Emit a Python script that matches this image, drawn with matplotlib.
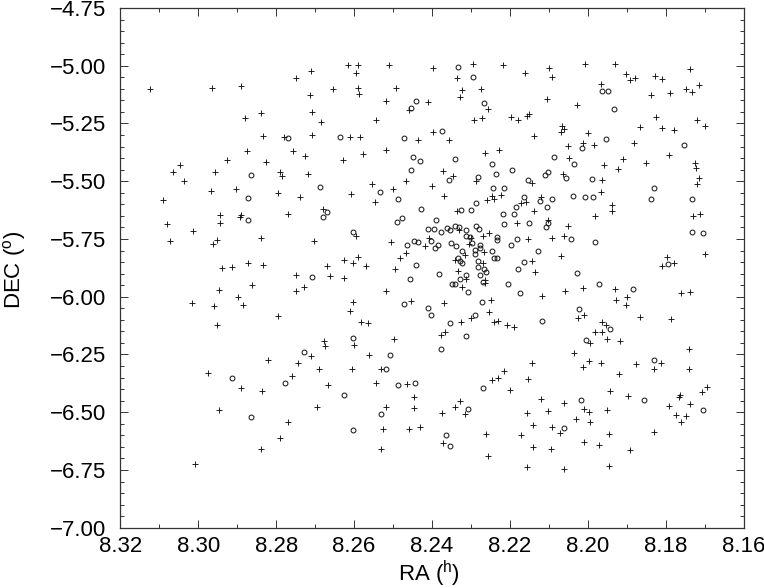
import matplotlib
matplotlib.use("Agg")
import matplotlib.pyplot as plt
from matplotlib.ticker import MultipleLocator

plt.rcParams['font.family'] = ['Liberation Sans', 'DejaVu Sans']
plt.rcParams['mathtext.fontset'] = 'custom'
plt.rcParams['mathtext.rm'] = 'Liberation Sans'
plt.rcParams['mathtext.it'] = 'Liberation Sans'
plt.rcParams['mathtext.bf'] = 'Liberation Sans'

plus_ra = [
8.3124,8.2965,8.2891,8.2748,8.2711,8.2713,8.2840,8.2881,8.2709,8.2685,8.2834,8.2779,8.2709,8.2876,8.2758,8.2725,8.2927,8.2826,8.3047,8.3065,8.2956,8.2791,8.2786,8.2717,8.3037,8.2904,8.2968,8.2795,8.2740,8.3091,8.2944,8.2889,8.2892,8.2769,8.2681,8.3080,8.2945,8.3013,8.3073,8.2953,8.2962,8.2840,8.2704,8.2939,8.2913,8.2873,8.2834,8.2670,
8.2616,8.2590,8.2595,8.2510,8.2398,8.2295,8.2219,8.2161,8.2337,8.2655,8.2590,8.2588,8.2492,8.2322,8.2275,8.2328,8.2519,8.2411,8.2459,8.2255,8.2544,8.2292,8.2272,8.2198,8.2180,8.2155,8.2150,8.2398,8.2610,8.2585,8.2437,8.2357,8.2139,8.2578,8.2629,8.2519,8.2264,8.2228,8.2372,8.2345,8.2466,8.2288,8.2144,8.2555,8.2501,8.2401,8.2609,8.2368,8.2245,8.2241,8.2222,8.2546,8.2259,8.2172,8.2160,8.2336,8.2138,8.2182,8.2330,8.2596,8.2254,8.2269,8.2407,8.2506,8.2300,8.2154,8.2419,8.2304,8.2468,8.2266,8.2315,8.2481,8.2590,8.2625,8.2604,8.2569,8.2341,8.2268,8.2143,8.2494,
8.2100,8.2007,8.1931,8.2092,8.1901,8.1891,8.1879,8.1828,8.1809,8.1737,8.1716,8.1747,8.1733,8.1965,8.1788,8.1838,8.2105,8.2029,8.1824,8.1719,8.1699,8.1867,8.1809,8.1780,8.2067,8.2061,8.2068,8.1999,8.2013,8.2050,8.1984,8.1882,8.1792,8.2048,8.1911,8.1959,8.1852,8.1724,8.1723,8.1922,8.2063,8.1716,8.1964,8.1721,8.1966,8.2121,8.1938,8.1937,8.1981,8.2101,8.1730,8.1712,8.2052,8.2093,8.2062,8.1699,8.2070,8.1797,8.1779,8.1809,
8.2749,8.2663,8.2863,8.2946,8.2728,8.2749,8.2897,8.3015,8.2960,8.2885,8.2795,8.2952,8.2678,8.2675,8.2711,8.2820,8.2743,8.2691,8.2976,8.2760,8.2891,8.2837,8.2666,8.2696,8.2947,8.2769,8.2791,8.2840,8.3009,
8.2627,8.2332,8.2135,8.2312,8.2264,8.2264,8.2322,8.2518,8.2602,8.2610,8.2453,8.2369,8.2248,8.2253,8.2326,8.2301,8.2240,8.2230,8.2208,8.2189,8.2581,8.2564,8.2366,8.2378,8.2498,8.2601,8.2562,8.2606,8.2532,8.2144,8.2216,8.2230,8.2247,8.2153,8.2201,8.2543,8.2465,8.2445,8.2327,8.2341,8.2518,8.2447,8.2375,8.2315,8.2155,8.2142,8.2458,8.2432,8.2526,8.2262,8.2172,8.2372,8.2141,8.2530,8.2255,8.2157,
8.2117,8.2059,8.2013,8.1931,8.1899,8.1927,8.1903,8.1760,8.1739,8.2010,8.2024,8.1865,8.1787,8.1964,8.1954,8.1981,8.1964,8.1952,8.1917,8.1995,8.1741,8.2036,8.1996,8.1965,8.1876,8.2013,8.1813,8.1829,8.1740,8.1919,8.1942,8.1896,8.1694,8.1708,8.1763,8.1765,8.2120,8.2062,8.1738,8.1792,8.2011,8.1997,8.1951,8.2103,8.1773,8.1747,8.2030,8.1995,8.1760,8.2091,8.2072,8.1947,8.1830,8.2011,8.1971,8.1893,8.2095,8.1945,8.2062,
]
plus_dec = [
-5.100,-5.098,-5.089,-5.054,-5.021,-5.128,-5.203,-5.226,-5.200,-5.242,-5.305,-5.308,-5.302,-5.369,-5.370,-5.389,-5.408,-5.418,-5.428,-5.461,-5.458,-5.458,-5.477,-5.470,-5.497,-5.534,-5.542,-5.552,-5.569,-5.581,-5.645,-5.647,-5.656,-5.641,-5.620,-5.684,-5.682,-5.716,-5.757,-5.755,-5.772,-5.746,-5.757,-5.875,-5.872,-5.853,-5.862,-5.869,
-4.997,-4.997,-5.030,-4.998,-5.010,-4.994,-4.997,-5.033,-5.054,-5.100,-5.095,-5.121,-5.096,-5.106,-5.102,-5.134,-5.152,-5.158,-5.193,-5.187,-5.236,-5.236,-5.226,-5.223,-5.236,-5.219,-5.209,-5.286,-5.309,-5.309,-5.320,-5.322,-5.305,-5.382,-5.408,-5.366,-5.376,-5.366,-5.455,-5.478,-5.497,-5.500,-5.507,-5.510,-5.534,-5.520,-5.556,-5.566,-5.566,-5.575,-5.558,-5.591,-5.583,-5.596,-5.588,-5.630,-5.630,-5.682,-5.713,-5.736,-5.725,-5.739,-5.744,-5.764,-5.746,-5.749,-5.781,-5.771,-5.811,-5.807,-5.821,-5.832,-5.827,-5.843,-5.853,-5.869,-5.840,-5.855,-5.846,-5.878,
-5.011,-4.991,-4.991,-5.050,-5.037,-5.060,-5.053,-5.046,-5.057,-5.012,-5.083,-5.102,-5.115,-5.080,-5.116,-5.125,-5.142,-5.172,-5.223,-5.237,-5.260,-5.265,-5.271,-5.279,-5.262,-5.275,-5.288,-5.291,-5.335,-5.346,-5.341,-5.335,-5.386,-5.399,-5.403,-5.428,-5.422,-5.422,-5.442,-5.448,-5.468,-5.485,-5.493,-5.513,-5.547,-5.569,-5.602,-5.630,-5.651,-5.667,-5.650,-5.641,-5.693,-5.744,-5.736,-5.813,-5.824,-5.826,-5.852,-5.869,
-5.907,-5.911,-5.950,-5.972,-5.959,-5.976,-6.002,-6.028,-6.039,-6.035,-6.084,-6.124,-6.192,-6.214,-6.257,-6.276,-6.287,-6.313,-6.331,-6.342,-6.396,-6.410,-6.383,-6.479,-6.489,-6.544,-6.613,-6.661,-6.724,
-5.920,-5.889,-5.895,-5.923,-5.927,-5.941,-5.959,-5.977,-6.022,-6.061,-6.019,-6.028,-6.015,-6.067,-6.109,-6.094,-6.111,-6.107,-6.122,-6.133,-6.109,-6.114,-6.152,-6.165,-6.182,-6.211,-6.254,-6.313,-6.313,-6.287,-6.322,-6.351,-6.360,-6.357,-6.404,-6.374,-6.380,-6.436,-6.452,-6.478,-6.479,-6.482,-6.502,-6.507,-6.505,-6.554,-6.573,-6.564,-6.574,-6.595,-6.599,-6.635,-6.651,-6.660,-6.690,-6.737,
-5.996,-5.975,-5.963,-5.966,-6.002,-6.015,-6.035,-5.985,-5.979,-6.080,-6.093,-6.087,-6.096,-6.110,-6.122,-6.153,-6.152,-6.184,-6.191,-6.202,-6.227,-6.244,-6.279,-6.286,-6.292,-6.305,-6.286,-6.313,-6.313,-6.334,-6.410,-6.430,-6.391,-6.413,-6.424,-6.433,-6.443,-6.460,-6.465,-6.475,-6.485,-6.501,-6.491,-6.495,-6.514,-6.517,-6.530,-6.544,-6.543,-6.564,-6.590,-6.595,-6.586,-6.628,-6.641,-6.665,-6.658,-6.734,-6.745,
]
circle_ra = [
8.2769,8.2864,8.2687,8.2873,8.2670,8.2681,8.2873,
8.2334,8.2295,8.2441,8.2455,8.2266,8.2375,8.2637,8.2471,8.2448,8.2431,8.2342,8.2453,8.2246,8.2194,8.2236,8.2357,8.2282,8.2154,8.2534,8.2487,8.2244,8.2216,8.2164,8.2123,8.2427,8.2326,8.2299,8.2286,8.2185,8.2217,8.2190,8.2390,8.2477,8.2490,8.2216,8.2151,8.2288,8.2280,8.2342,8.2331,8.2411,8.2396,8.2376,8.2361,8.2355,8.2314,8.2603,8.2313,8.2303,8.2234,8.2232,8.2183,8.2446,8.2435,8.2403,8.2464,8.2385,8.2393,8.2352,8.2339,8.2298,8.2278,8.2277,8.2196,8.2323,8.2290,8.2290,8.2246,8.2128,8.2241,8.2233,8.2334,8.2329,8.2323,8.2283,8.2163,8.2442,8.2281,8.2266,8.2180,
8.1964,8.1948,8.1932,8.1954,8.2014,8.1752,8.2088,8.2036,8.2101,8.2111,8.2057,8.1989,8.1829,8.2092,8.2038,8.2007,8.1988,8.1839,8.1733,8.2106,8.2103,8.2108,8.1732,8.1704,8.2044,8.1982,8.1795,
8.2707,8.2729,8.2913,8.2778,8.2864,
8.2457,8.2382,8.2329,8.2312,8.2349,8.2340,8.2278,8.2261,8.2268,8.2307,8.2206,8.2174,8.2472,8.2411,8.2403,8.2272,8.2290,8.2353,8.2312,8.2603,8.2376,8.2509,8.2518,8.2487,8.2444,8.2625,8.2270,8.2308,8.2530,8.2603,8.2364,8.2355,
8.2027,8.1972,8.1884,8.2023,8.2117,8.1944,8.2006,8.1830,8.2018,8.1857,8.1705,8.2060,
]
circle_dec = [
-5.312,-5.471,-5.524,-5.573,-5.634,-5.654,-5.669,
-5.005,-5.047,-5.154,-5.185,-5.162,-5.282,-5.309,-5.311,-5.396,-5.412,-5.403,-5.452,-5.425,-5.451,-5.467,-5.494,-5.480,-5.496,-5.545,-5.579,-5.530,-5.529,-5.569,-5.586,-5.621,-5.625,-5.624,-5.596,-5.612,-5.640,-5.643,-5.666,-5.658,-5.676,-5.686,-5.679,-5.692,-5.705,-5.695,-5.697,-5.705,-5.705,-5.721,-5.703,-5.713,-5.712,-5.721,-5.739,-5.741,-5.741,-5.755,-5.749,-5.758,-5.764,-5.758,-5.778,-5.777,-5.790,-5.767,-5.780,-5.768,-5.774,-5.788,-5.778,-5.804,-5.798,-5.814,-5.804,-5.804,-5.832,-5.834,-5.832,-5.845,-5.856,-5.847,-5.850,-5.863,-5.872,-5.880,-5.880,
-5.109,-5.108,-5.188,-5.317,-5.354,-5.343,-5.393,-5.426,-5.458,-5.471,-5.484,-5.490,-5.530,-5.576,-5.563,-5.568,-5.568,-5.575,-5.578,-5.611,-5.680,-5.697,-5.718,-5.725,-5.751,-5.761,-5.857,
-5.913,-6.241,-6.351,-6.373,-6.522,
-5.923,-5.901,-5.925,-5.905,-5.943,-5.944,-5.905,-5.892,-5.936,-5.979,-5.944,-5.982,-6.031,-6.047,-6.080,-6.025,-6.081,-6.114,-6.171,-6.178,-6.225,-6.254,-6.315,-6.381,-6.372,-6.426,-6.396,-6.486,-6.508,-6.577,-6.599,-6.645,
-5.898,-5.943,-5.967,-6.054,-6.104,-6.140,-6.186,-6.272,-6.448,-6.445,-6.489,-6.570,
]
x_ticks = [8.32, 8.30, 8.28, 8.26, 8.24, 8.22, 8.20, 8.18, 8.16]
x_labels = ['8.32', '8.30', '8.28', '8.26', '8.24', '8.22', '8.20', '8.18', '8.16']
y_ticks = [-4.75, -5.00, -5.25, -5.50, -5.75, -6.00, -6.25, -6.50, -6.75, -7.00]
y_labels = ['\u22124.75', '\u22125.00', '\u22125.25', '\u22125.50', '\u22125.75', '\u22126.00', '\u22126.25', '\u22126.50', '\u22126.75', '\u22127.00']

W, H = 764, 588
fig = plt.figure(figsize=(W / 100, H / 100), dpi=100)
ax = fig.add_axes([120.3 / W, 1 - 527.7 / H, 623.4 / W, 519.7 / H])
ax.plot(plus_ra, plus_dec, ls='none', marker='+', ms=4.4, mew=0.65, color='#111111')
ax.plot(circle_ra, circle_dec, ls='none', marker='o', ms=3.5, mew=0.7, mfc='none', mec='#111111')
ax.set_xlim(8.32, 8.16)
ax.set_ylim(-7.0, -4.75)
ax.set_xticks(x_ticks, x_labels)
ax.set_yticks(y_ticks, y_labels)
ax.xaxis.set_minor_locator(MultipleLocator(0.01))
ax.yaxis.set_minor_locator(MultipleLocator(0.05))
ax.tick_params(which='major', direction='in', length=5.5, width=0.7, top=True, right=True,
               labelsize=16, color='#333333')
ax.tick_params(axis='x', which='major', pad=6)
ax.tick_params(axis='y', which='major', pad=10)
ax.tick_params(which='minor', direction='in', length=2.8, width=0.7, top=True, right=True, color='#333333')
for s in ax.spines.values():
    s.set_linewidth(0.9)
    s.set_color('#333333')
ax.set_xlabel('RA ($^{\\mathrm{h}}$)', fontsize=16, va='baseline')
ax.set_ylabel('DEC ($^{\\mathrm{o}}$)', fontsize=16, va='baseline')
ax.xaxis.set_label_coords(429 / W, 1 - 581 / H, transform=fig.transFigure)
ax.yaxis.set_label_coords(20 / W, 1 - 270 / H, transform=fig.transFigure)
fig.savefig('out.png', dpi=100)
